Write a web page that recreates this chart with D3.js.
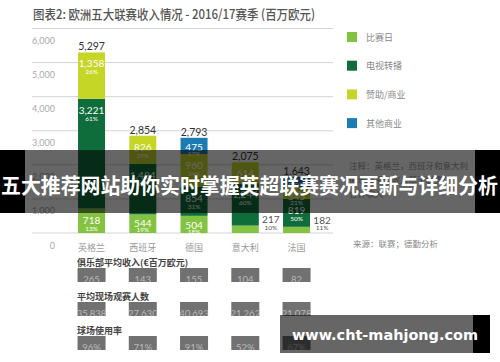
<!DOCTYPE html>
<html><head><meta charset="utf-8">
<script src="https://cdn.jsdelivr.net/npm/d3@7"></script>
<style>
html,body{margin:0;padding:0;background:#fff;}
svg{display:block;font-family:"Noto Sans CJK SC","Noto Sans",sans-serif;}
</style></head>
<body>
<svg id="c" width="500" height="362"></svg>
<script>
// ---- data ----
const title = "图表2: 欧洲五大联赛收入情况 - 2016/17赛季 (百万欧元)";
const categories = ["英格兰","西班牙","德国","意大利","法国"];
const seriesNames = ["比赛日","电视转播","赞助/商业","其他商业"];
const seriesColors = ["#84c341","#0f6d3b","#c5d627","#1b7bb4"];
const matchday = [718,544,504,217,182];
const broadcasting = [3221,1484,854,1244,819];
const sponsorship = [1358,826,960,614,345];
const otherCommercial = [0,0,475,0,297];
const matchdayPct = [13,19,18,10,11];
const broadcastingPct = [61,52,31,60,50];
const sponsorshipPct = [26,29,34,30,21];
const otherCommercialPct = [0,0,17,0,18];
const totals = [5297,2854,2793,2075,1643];
const yTicks = [0,1000,2000,3000,4000,5000,6000];
const rowTitles = ["俱乐部平均收入(€百万欧元)","平均现场观赛人数","球场使用率"];
const avgRevenue = ["265","143","155","104","82"];
const avgAttendance = ["35,838","27,630","40,693","21,262","21,078"];
const utilization = ["96%","71%","91%","52%","67%"];
const noteLines = ["注释：英格兰，西班牙和意大利","俱乐部平均收入基于联赛总","合计收入"];
const sourceText = "来源：联赛；德勤分析";
const bannerText = "五大推荐网站助你实时掌握英超联赛赛况更新与详细分析";
const watermarkText = "www.cht-mahjong.com";

// ---- chart ----
const svg = d3.select("#c");
const fmt = d3.format(",");
const y = d3.scaleLinear().domain([0,6000]).range([233,28.5]);
const x = d3.scaleBand().domain(categories).range([53.8,334.3]).padding(0.473);

svg.append("text").attr("x",33).attr("y",19).attr("font-size",13).attr("fill","#555")
  .attr("font-weight",500).attr("textLength",282).attr("lengthAdjust","spacingAndGlyphs").text(title);

// gridlines + y labels
svg.append("g").selectAll("line").data(yTicks).join("line")
  .attr("x1",32).attr("x2",333).attr("y1",d=>y(d)).attr("y2",d=>y(d))
  .attr("stroke","#d4d4d4").attr("stroke-width",1);
svg.append("g").selectAll("text").data(yTicks).join("text")
  .attr("x",55).attr("y",d=>y(d)+12).attr("text-anchor","end").attr("dominant-baseline","central")
  .attr("font-size",9).attr("fill","#aaa").attr("font-family","Lato,sans-serif").text(d=>fmt(d));

// stacked bars
const keys = ["matchday","broadcasting","sponsorship","other"];
const rows = categories.map((c,i)=>({cat:c,matchday:matchday[i],broadcasting:broadcasting[i],sponsorship:sponsorship[i],other:otherCommercial[i],
  pct:{matchday:matchdayPct[i],broadcasting:broadcastingPct[i],sponsorship:sponsorshipPct[i],other:otherCommercialPct[i]}}));
const stack = d3.stack().keys(keys)(rows);
const g = svg.append("g");
stack.forEach((layer,li)=>{
  g.selectAll(null).data(layer.filter(d=>d[1]>d[0])).join("rect")
    .attr("x",d=>x(d.data.cat)).attr("width",x.bandwidth())
    .attr("y",d=>y(d[1])).attr("height",d=>y(d[0])-y(d[1]))
    .attr("fill",seriesColors[li]);
});
// segment labels
stack.forEach((layer,li)=>{
  const key = keys[li];
  layer.filter(d=>d[1]>d[0]).forEach(d=>{
    const top = y(d[1]), bot = y(d[0]), h = bot-top;
    const val = d[1]-d[0], pct = d.data.pct[key];
    let cx, vy, py, col;
    if (h < 10) {
      const mid = (top+bot)/2;
      cx = key==="other" ? x(d.data.cat)-9 : x(d.data.cat)+x.bandwidth()+12;
      vy = mid-10; py = mid-2; col = "#555";
    } else {
      cx = x(d.data.cat)+x.bandwidth()/2;
      vy = top + (h<20 ? 9 : 11); py = top + (h<20 ? 15.5 : 19.5); col = "#fff";
    }
    g.append("text").attr("x",cx).attr("y",vy).attr("text-anchor","middle").attr("dominant-baseline","central")
      .attr("font-size",10).attr("fill",col).attr("font-family","Lato,sans-serif").text(fmt(val));
    g.append("text").attr("x",cx).attr("y",py).attr("text-anchor","middle").attr("dominant-baseline","central")
      .attr("font-size",6.5).attr("fill",col).attr("font-family","Lato,sans-serif").text(pct+"%");
  });
});
// totals
svg.append("g").selectAll("text").data(categories).join("text")
  .attr("x",d=>x(d)+x.bandwidth()/2).attr("y",(d,i)=>y(totals[i])-2)
  .attr("text-anchor","middle").attr("font-size",10.5).attr("fill","#333").attr("font-family","Lato,sans-serif")
  .text((d,i)=>fmt(totals[i]));
// category labels
svg.append("g").selectAll("text").data(categories).join("text")
  .attr("x",d=>x(d)+x.bandwidth()/2).attr("y",247).attr("text-anchor","middle").attr("dominant-baseline","central")
  .attr("font-size",9).attr("fill","#999").text(d=>d);

// legend
const lg = svg.append("g");
seriesNames.forEach((n,i)=>{
  const ly = 37 + i*28.7;
  lg.append("rect").attr("x",347).attr("y",ly-5).attr("width",10).attr("height",10).attr("fill",seriesColors[i]);
  lg.append("text").attr("x",366).attr("y",ly).attr("dominant-baseline","central").attr("font-size",9).attr("fill","#888").text(n);
});
// notes & source
noteLines.forEach((t,i)=>{
  svg.append("text").attr("x",349).attr("y",165+i*14).attr("dominant-baseline","central").attr("font-size",8.5).attr("fill","#999").text(t);
});
svg.append("text").attr("x",353).attr("y",243).attr("dominant-baseline","central").attr("font-size",8.5).attr("fill","#888").text(sourceText);

// bottom table
const tableRows = [avgRevenue, avgAttendance, utilization];
const boxTops = [268,302,336];
const defs = svg.append("defs");
tableRows.forEach((vals,ri)=>{
  const bt = boxTops[ri];
  svg.append("text").attr("x",77).attr("y",bt-2).attr("font-size",9).attr("fill","#444").attr("font-weight",700).text(rowTitles[ri]);
  categories.forEach((c,ci)=>{
    const id = "clip"+ri+"_"+ci;
    defs.append("clipPath").attr("id",id).append("rect").attr("x",x(c)-0.5).attr("y",bt).attr("width",x.bandwidth()+1).attr("height",14);
    svg.append("rect").attr("x",x(c)-0.5).attr("y",bt).attr("width",x.bandwidth()+1).attr("height",14).attr("fill","#717171");
    svg.append("text").attr("clip-path","url(#"+id+")").attr("x",x(c)+x.bandwidth()/2).attr("y",bt+15)
      .attr("text-anchor","middle").attr("font-size",9.5).attr("fill","#b9b9b9").attr("font-family","Lato,sans-serif").text(vals[ci]);
  });
});

// banner overlay
svg.append("rect").attr("x",0).attr("y",150).attr("width",500).attr("height",63).attr("fill","rgba(0,0,0,0.6)");
svg.append("rect").attr("x",0).attr("y",150).attr("width",25).attr("height",63).attr("fill","#000");
svg.append("rect").attr("x",475).attr("y",150).attr("width",25).attr("height",63).attr("fill","#000");
svg.append("text").attr("x",1).attr("y",193).attr("font-size",21).attr("font-weight",700).attr("fill","#fff")
  .attr("textLength",497).attr("lengthAdjust","spacingAndGlyphs").text(bannerText);

// watermark overlay
svg.append("rect").attr("x",280).attr("y",315).attr("width",193).attr("height",38).attr("fill","rgba(0,0,0,0.6)");
svg.append("rect").attr("x",473).attr("y",315).attr("width",17).attr("height",38).attr("fill","#000");
svg.append("text").attr("x",292).attr("y",340).attr("font-size",14.5).attr("font-weight",700).attr("fill","#fff")
  .attr("font-family","'DejaVu Sans',sans-serif").attr("textLength",186).attr("lengthAdjust","spacingAndGlyphs").text(watermarkText);
</script>
</body></html>
